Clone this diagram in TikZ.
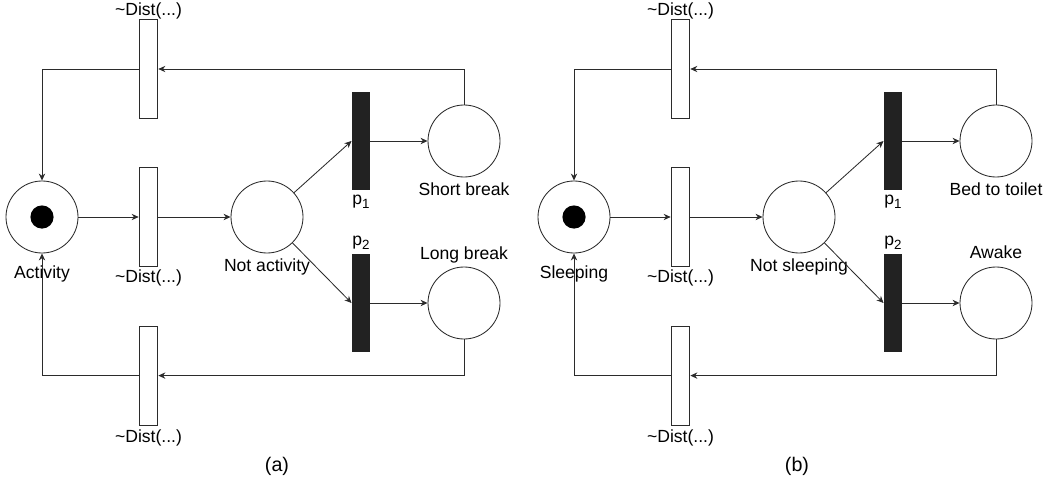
\documentclass[tikz,border=0pt]{standalone}
\usepackage{fontspec}
\setmainfont{Liberation Sans}
\usepackage{tikz}
\usetikzlibrary{arrows.meta}
\definecolor{netLine}{HTML}{2B2B2B}
\definecolor{netBar}{HTML}{222222}
\newcommand{\distlabel}{\textasciitilde Dist(...)}
\newcommand{\pidx}[1]{p\raisebox{-0.45ex}{\fontsize{9.5}{10}\selectfont #1}}

\begin{document}
\begin{tikzpicture}[
  place/.style={circle, draw=netLine, line width=0.6pt, minimum size=1.8cm, inner sep=0pt},
  token/.style={circle, fill=black, minimum size=0.58cm, inner sep=0pt},
  timedtrans/.style={rectangle, draw=netLine, line width=0.6pt, fill=white,
    minimum width=0.47cm, minimum height=2.47cm, inner sep=0pt},
  probtrans/.style={rectangle, fill=netBar, minimum width=0.46cm,
    minimum height=2.46cm, inner sep=0pt},
  lbl/.style={font=\fontsize{12.5}{14}\selectfont, inner sep=0pt,
    text height=9pt, text depth=0pt},
  caption/.style={font=\fontsize{14}{16}\selectfont, inner sep=0pt},
  arr/.style={-{Stealth[length=5pt,width=4.5pt]}, line width=0.6pt, netLine}]

  \useasboundingbox (0,0) rectangle (26.325,-12.125);

  % Panel (a) — activity net
  \node[place, label={[lbl, label distance=0.3cm]below:Activity}] (act) at (1.05,-5.425) {};
  \node[token] (actTok) at (act.center) {};
  \node[timedtrans, label={[lbl, label distance=0.075cm]above:\distlabel}] (actBack) at (3.7125,-1.725) {};
  \node[timedtrans, label={[lbl, label distance=0.075cm]below:\distlabel}] (actOut) at (3.7125,-5.425) {};
  \node[timedtrans, label={[lbl, label distance=0.1cm]below:\distlabel}] (actLong) at (3.7125,-9.39) {};
  \node[place, label={[lbl, label distance=0.125cm]below:Not activity}] (notAct) at (6.675,-5.425) {};
  \node[probtrans, label={[lbl, label distance=0.02cm]below:\pidx{1}}] (pOneA) at (9.025,-3.525) {};
  \node[probtrans, label={[lbl, label distance=0.2cm]above:\pidx{2}}] (pTwoA) at (9.025,-7.575) {};
  \node[place, label={[lbl, label distance=0.125cm]below:Short break}] (short) at (11.6,-3.525) {};
  \node[place, label={[lbl, label distance=0.175cm]above:Long break}] (long) at (11.6,-7.575) {};
  \node[caption] (capA) at (6.925,-11.65) {(a)};

  \draw[arr] (act) -- (actOut.west);
  \draw[arr] (actOut.east) -- (notAct);
  \draw[arr] (notAct) -- (pOneA.west);
  \draw[arr] (notAct) -- (pTwoA.west);
  \draw[arr] (pOneA.east) -- (short);
  \draw[arr] (pTwoA.east) -- (long);
  \draw[arr] (short.north) |- (actBack.east);
  \draw[arr] (actBack.west) -| (act.north);
  \draw[arr] (long.south) |- (actLong.east);
  \draw[arr] (actLong.west) -| (act.south);

  % Panel (b) — sleeping net
  \node[place, label={[lbl, label distance=0.3cm]below:Sleeping}] (sleep) at (14.35,-5.425) {};
  \node[token] (sleepTok) at (sleep.center) {};
  \node[timedtrans, label={[lbl, label distance=0.075cm]above:\distlabel}] (sleepBack) at (17.0125,-1.725) {};
  \node[timedtrans, label={[lbl, label distance=0.075cm]below:\distlabel}] (sleepOut) at (17.0125,-5.425) {};
  \node[timedtrans, label={[lbl, label distance=0.1cm]below:\distlabel}] (sleepLong) at (17.0125,-9.39) {};
  \node[place, label={[lbl, label distance=0.125cm]below:Not sleeping}] (notSleep) at (19.975,-5.425) {};
  \node[probtrans, label={[lbl, label distance=0.02cm]below:\pidx{1}}] (pOneB) at (22.325,-3.525) {};
  \node[probtrans, label={[lbl, label distance=0.2cm]above:\pidx{2}}] (pTwoB) at (22.325,-7.575) {};
  \node[place, label={[lbl, label distance=0.125cm]below:Bed to toilet}] (toilet) at (24.9,-3.525) {};
  \node[place, label={[lbl, label distance=0.19cm]above:Awake}] (awake) at (24.9,-7.575) {};
  \node[caption] (capB) at (19.925,-11.65) {(b)};

  \draw[arr] (sleep) -- (sleepOut.west);
  \draw[arr] (sleepOut.east) -- (notSleep);
  \draw[arr] (notSleep) -- (pOneB.west);
  \draw[arr] (notSleep) -- (pTwoB.west);
  \draw[arr] (pOneB.east) -- (toilet);
  \draw[arr] (pTwoB.east) -- (awake);
  \draw[arr] (toilet.north) |- (sleepBack.east);
  \draw[arr] (sleepBack.west) -| (sleep.north);
  \draw[arr] (awake.south) |- (sleepLong.east);
  \draw[arr] (sleepLong.west) -| (sleep.south);
\end{tikzpicture}
\end{document}
